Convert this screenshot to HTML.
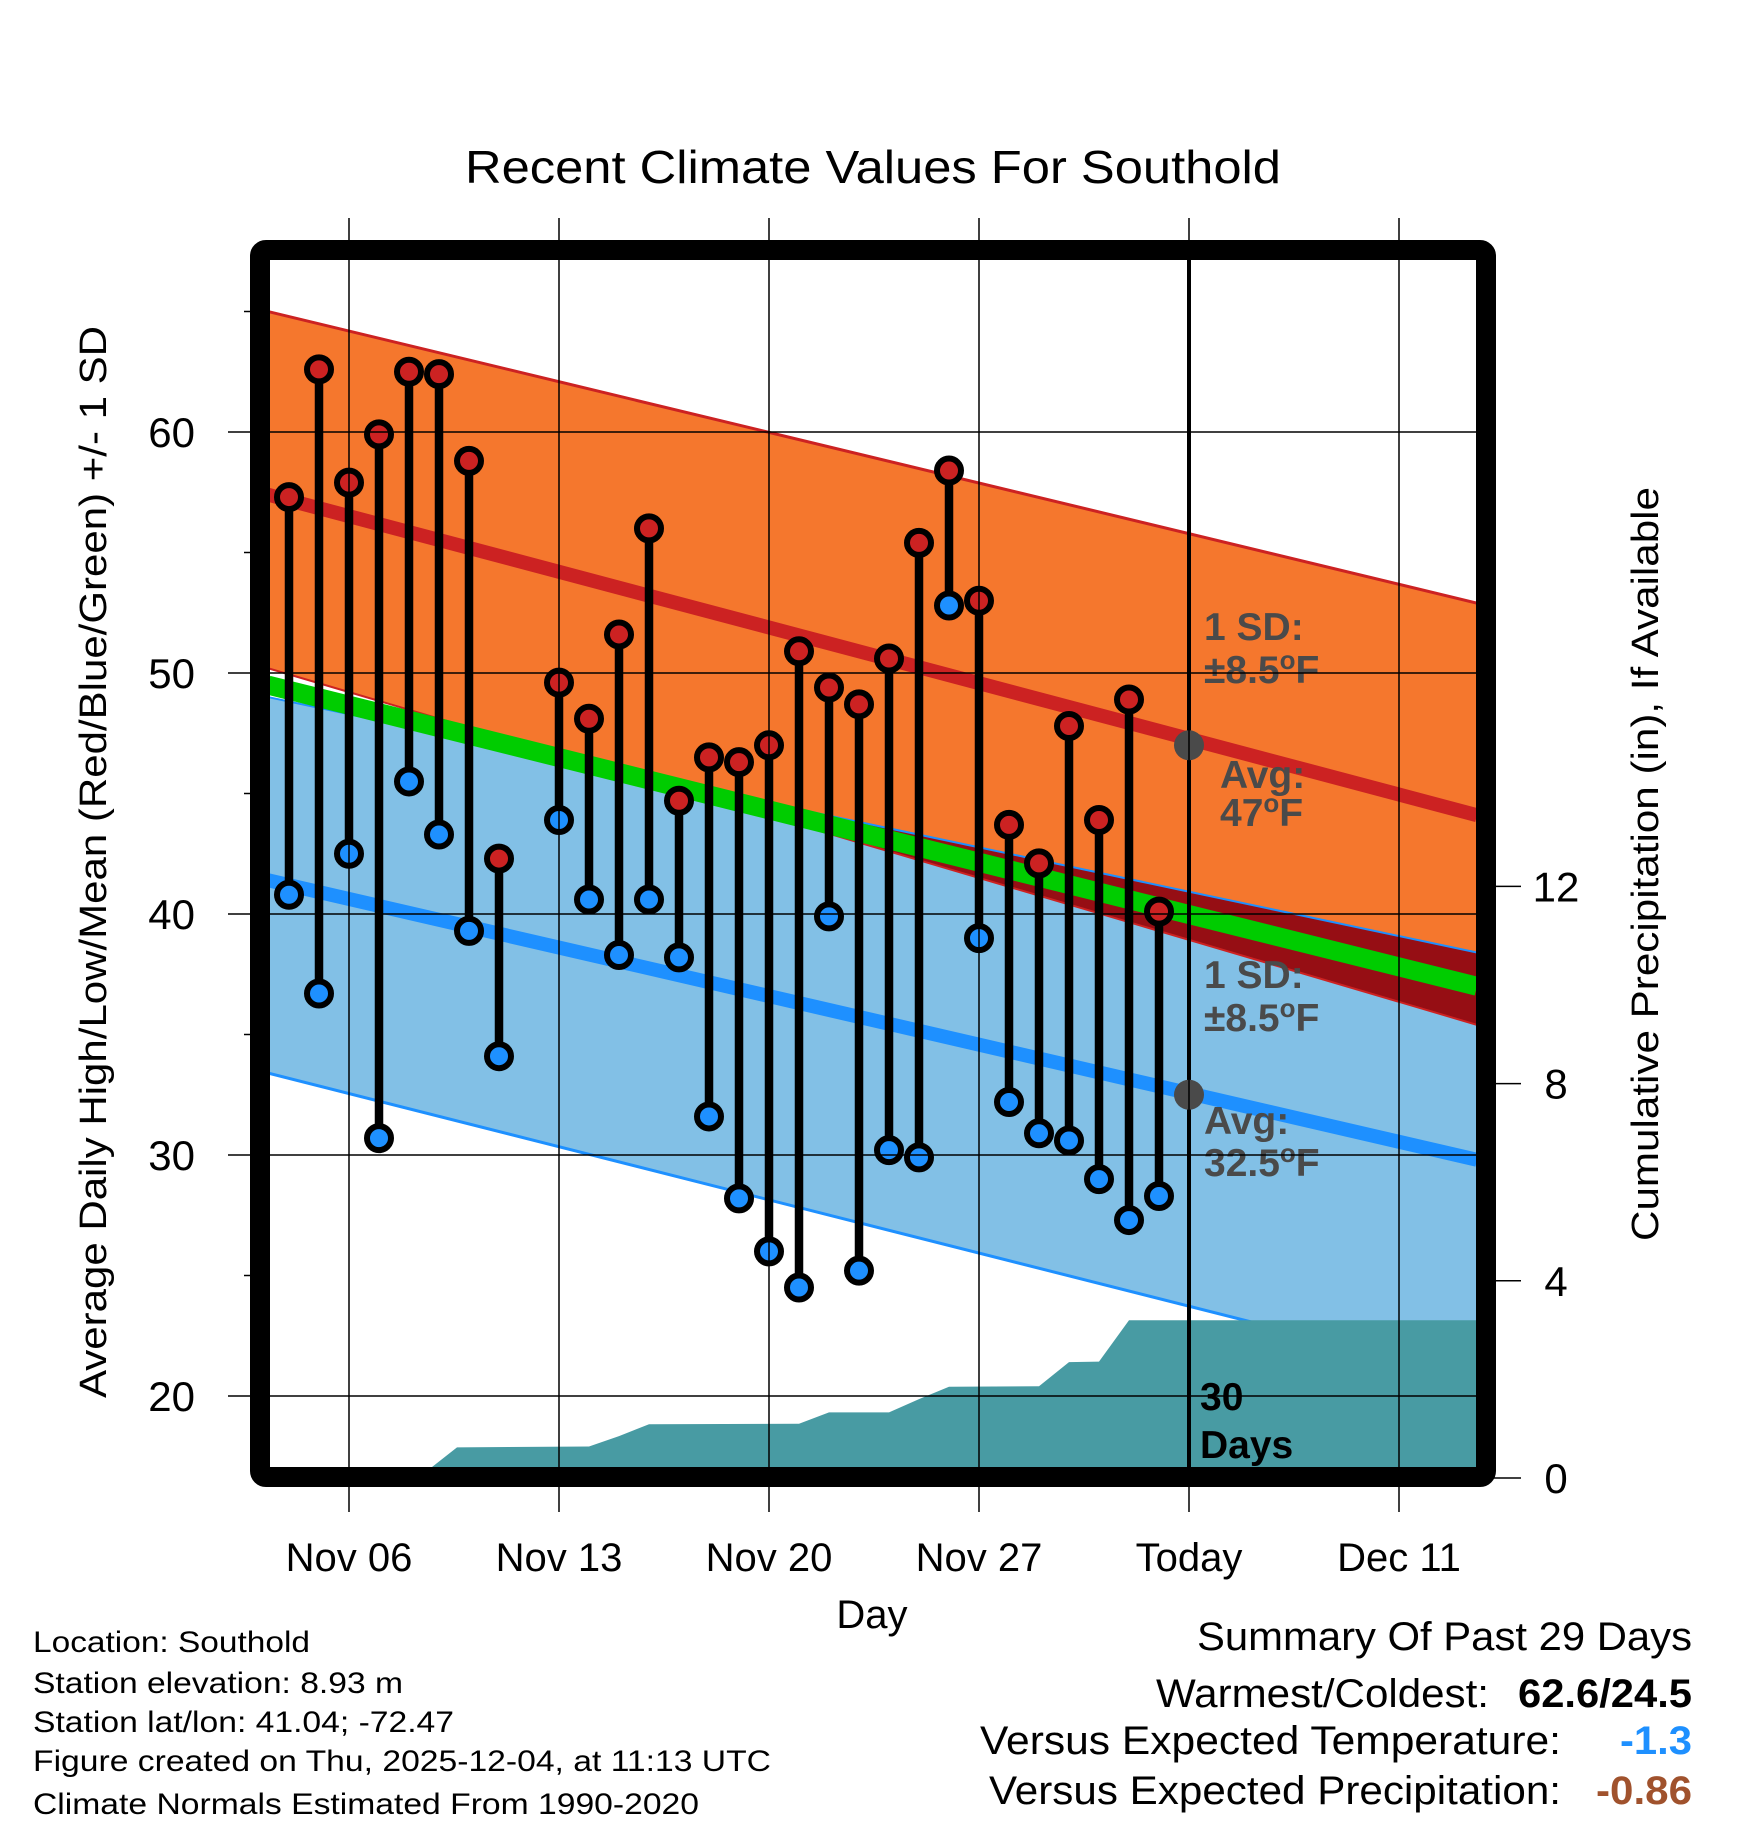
<!DOCTYPE html>
<html><head><meta charset="utf-8"><style>
body{margin:0;background:#fff}
svg{display:block;font-family:"Liberation Sans",sans-serif}
</style></head><body>
<svg id="chart" width="1748" height="1828" viewBox="0 0 1748 1828" xmlns="http://www.w3.org/2000/svg">
<defs>
<clipPath id="plotclip"><rect x="270" y="260" width="1207" height="1208"/></clipPath>
</defs>
<rect width="1748" height="1828" fill="#fff"/>
<text x="873" y="183" font-size="46" text-anchor="middle" textLength="816" lengthAdjust="spacingAndGlyphs">Recent Climate Values For Southold</text>
<g id="plot" clip-path="url(#plotclip)"></g>
<g id="overlay"></g>
<g id="axes"></g>
<text transform="translate(106,862) rotate(-90)" font-size="38" text-anchor="middle" textLength="1072" lengthAdjust="spacingAndGlyphs">Average Daily High/Low/Mean (Red/Blue/Green) +/- 1 SD</text>
<text transform="translate(1658,864) rotate(-90)" font-size="38" text-anchor="middle" textLength="754" lengthAdjust="spacingAndGlyphs">Cumulative Precipitation (in), If Available</text>
<text x="872" y="1628" font-size="40" text-anchor="middle">Day</text>
<g font-size="30">
<text x="33" y="1652" textLength="277" lengthAdjust="spacingAndGlyphs">Location: Southold</text>
<text x="33" y="1693" textLength="370" lengthAdjust="spacingAndGlyphs">Station elevation: 8.93 m</text>
<text x="33" y="1732" textLength="421" lengthAdjust="spacingAndGlyphs">Station lat/lon: 41.04; -72.47</text>
<text x="33" y="1771" textLength="738" lengthAdjust="spacingAndGlyphs">Figure created on Thu, 2025-12-04, at 11:13 UTC</text>
<text x="33" y="1814" textLength="666" lengthAdjust="spacingAndGlyphs">Climate Normals Estimated From 1990-2020</text>
</g>
<g font-size="40">
<text x="1197" y="1650" textLength="495" lengthAdjust="spacingAndGlyphs">Summary Of Past 29 Days</text>
<text x="1156" y="1707" textLength="333" lengthAdjust="spacingAndGlyphs">Warmest/Coldest:</text>
<text x="1518" y="1707" font-weight="bold" textLength="174" lengthAdjust="spacingAndGlyphs">62.6/24.5</text>
<text x="980" y="1754" textLength="581" lengthAdjust="spacingAndGlyphs">Versus Expected Temperature:</text>
<text x="1620" y="1754" font-weight="bold" fill="#1E90FF" textLength="72" lengthAdjust="spacingAndGlyphs">-1.3</text>
<text x="989" y="1804" textLength="572" lengthAdjust="spacingAndGlyphs">Versus Expected Precipitation:</text>
<text x="1596" y="1804" font-weight="bold" fill="#A0522D" textLength="96" lengthAdjust="spacingAndGlyphs">-0.86</text>
</g>
</svg>
<script>
// ---- data ----
const days  = [4,5,6,7,8,9,10,11,13,14,15,16,17,18,19,20,21,22,23,24,25,26,27,28,29,30,31,32,33];
const highs = [57.3,62.6,57.9,59.9,62.5,62.4,58.8,42.3,49.6,48.1,51.6,56.0,44.7,46.5,46.3,47.0,50.9,49.4,48.7,50.6,55.4,58.4,53.0,43.7,42.1,47.8,43.9,48.9,40.1];
const lows  = [40.8,36.7,42.5,30.7,45.5,43.3,39.3,34.1,43.9,40.6,38.3,40.6,38.2,31.6,28.2,26.0,24.5,39.9,25.2,30.2,29.9,52.8,39.0,32.2,30.9,30.6,29.0,27.3,28.3];
const normDays   = [3.3, 43.6];
const highPlusSD = [65.0, 52.9];
const highMean   = [57.4, 44.1];
const highMinusSD= [50.2, 35.4];
const lowPlusSD  = [49.0, 38.4];
const lowMean    = [41.4, 29.8];
const lowMinusSD = [33.4, 20.7];
const meanTemp   = [49.5, 37.0];
const precipDays = [3, 8.3, 9.6, 14, 15, 16, 21, 22, 24, 25, 26, 29, 30, 31, 32, 44];
const precipCum  = [0, 0, 0.62, 0.64, 0.85, 1.09, 1.1, 1.33, 1.33, 1.6, 1.85, 1.86, 2.35, 2.36, 3.2, 3.2];
const xTickDays  = [6,13,20,27,34,41];
const xTickLabels= ["Nov 06","Nov 13","Nov 20","Nov 27","Today","Dec 11"];
const yTicks     = [20,30,40,50,60];
const yMinor     = [25,35,45,55,65];
const pTicks     = [0,4,8,12];
const todayDay = 34;

// ---- scales ----
const X = d => 349 + (d - 6) * 30;
const Y = t => 432 + (60 - t) * 24.1;
const YP = p => 1478 - p * 49.3;
const NS = "http://www.w3.org/2000/svg";
function mk(tag, attrs, parent){const e=document.createElementNS(NS,tag);for(const k in attrs)e.setAttribute(k,attrs[k]);parent.appendChild(e);return e;}
const plot = document.getElementById('plot');
const overlay = document.getElementById('overlay');
const axes = document.getElementById('axes');
const line = arr => normDays.map((d,i)=>X(d)+','+Y(arr[i])).join(' ');
const band = (a,b) => normDays.map((d,i)=>X(d)+','+Y(a[i])).concat(normDays.slice().reverse().map((d,j)=>{const i=normDays.length-1-j;return X(d)+','+Y(b[i]);})).join(' ');

let e;
e = mk('polygon',{points:band(highPlusSD,highMinusSD),fill:'#F5772D'},plot);


e = mk('polygon',{points:band(lowPlusSD,lowMinusSD),fill:'#82C0E6'},plot);


const cp = mk('clipPath',{id:'lowclip'},plot);
mk('polygon',{points:band(lowPlusSD,lowMinusSD)},cp);
e = mk('polygon',{points:band(highPlusSD,highMinusSD),fill:'#960E14','clip-path':'url(#lowclip)'},plot);


e = mk('polyline',{points:line(highPlusSD),fill:'none',stroke:'#CC2222','stroke-width':3},plot);


e = mk('polyline',{points:line(lowPlusSD),fill:'none',stroke:'#1E90FF','stroke-width':2},plot);


e = mk('polyline',{points:line(lowMinusSD),fill:'none',stroke:'#1E90FF','stroke-width':3},plot);


e = mk('polyline',{points:line(highMinusSD),fill:'none',stroke:'#CC2222','stroke-width':2},plot);


e = mk('polyline',{points:line(meanTemp),fill:'none',stroke:'#00CC00','stroke-width':19},plot);


e = mk('polyline',{points:line(highMean),fill:'none',stroke:'#CC2222','stroke-width':14},plot);


e = mk('polyline',{points:line(lowMean),fill:'none',stroke:'#1E90FF','stroke-width':14},plot);



// precipitation
let pp = precipDays.map((d,i)=>X(d)+','+YP(precipCum[i]));
pp.push(X(precipDays[precipDays.length-1])+',1500', X(precipDays[0])+',1500');
e = mk('polygon',{points:pp.join(' '),fill:'#489BA3'},plot);



// grid
yTicks.forEach(t=>{
  e = mk('line',{x1:228,x2:1478,y1:Y(t),y2:Y(t),stroke:'#000','stroke-width':1.5},axes);
  
  
  e = mk('text',{x:195,y:Y(t)+15,'font-size':42,'text-anchor':'end'},axes);
  e.textContent = t;
  
  
});
yMinor.forEach(t=>{
  e = mk('line',{x1:244,x2:253,y1:Y(t),y2:Y(t),stroke:'#000','stroke-width':1.5},axes);
  
  
});
xTickDays.forEach((d,i)=>{
  e = mk('line',{x1:X(d),x2:X(d),y1:218,y2:1512,stroke:'#000','stroke-width':1.5},axes);
  
  
  e = mk('text',{x:X(d),y:1571,'font-size':40,'text-anchor':'middle'},axes);
  e.textContent = xTickLabels[i];
  
  
});
pTicks.forEach(p=>{
  e = mk('line',{x1:1490,x2:1521,y1:YP(p),y2:YP(p),stroke:'#000','stroke-width':1.5},axes);
  
  
  e = mk('text',{x:1556,y:YP(p)+15,'font-size':42,'text-anchor':'middle'},axes);
  e.textContent = p;
  
  
});

// today line
e = mk('line',{x1:X(todayDay),x2:X(todayDay),y1:255,y2:1470,stroke:'#000','stroke-width':4},overlay);



// stems & markers
days.forEach((d,i)=>{
  e = mk('line',{x1:X(d),x2:X(d),y1:Y(highs[i]),y2:Y(lows[i]),stroke:'#000','stroke-width':8.5},overlay);
  
  
});
days.forEach((d,i)=>{
  e = mk('circle',{cx:X(d),cy:Y(highs[i]),r:12,fill:'#CC2222',stroke:'#000','stroke-width':6},overlay);
  
  
  e = mk('circle',{cx:X(d),cy:Y(lows[i]),r:12,fill:'#1E90FF',stroke:'#000','stroke-width':6},overlay);
  
  
});

// today normal dots
e = mk('circle',{cx:X(todayDay),cy:Y(47),r:15,fill:'#4a4a4a'},overlay);


e = mk('circle',{cx:X(todayDay),cy:Y(32.5),r:15,fill:'#4a4a4a'},overlay);



// annotations: [prefix, degree?, x, y, color, name]
const ann = [
 ["1 SD:",false,1204,640,'#4a4a4a','high-sd-label'],
 ["±8.5",true,1204,683,'#4a4a4a','high-sd-value'],
 ["Avg:",false,1220,788,'#4a4a4a','high-avg-label'],
 ["47",true,1220,826,'#4a4a4a','high-avg-value'],
 ["1 SD:",false,1204,988,'#4a4a4a','low-sd-label'],
 ["±8.5",true,1204,1031,'#4a4a4a','low-sd-value'],
 ["Avg:",false,1204,1134,'#4a4a4a','low-avg-label'],
 ["32.5",true,1204,1176,'#4a4a4a','low-avg-value'],
 ["30",false,1200,1410,'#000','days-count'],
 ["Days",false,1200,1458,'#000','days-label']
];
ann.forEach(a=>{
  e = mk('text',{x:a[2],y:a[3],'font-size':39,'font-weight':'bold',fill:a[4]},overlay);
  
  
  const t1 = mk('tspan',{},e); t1.textContent = a[0];
  if(a[1]){
    const t2 = mk('tspan',{dy:-14,'font-size':26},e); t2.textContent = 'o';
    const t3 = mk('tspan',{dy:14},e); t3.textContent = 'F';
  }
});

// frame
e = mk('rect',{x:260,y:250,width:1226,height:1227,rx:6,fill:'none',stroke:'#000','stroke-width':20},overlay);


</script>
</body></html>
